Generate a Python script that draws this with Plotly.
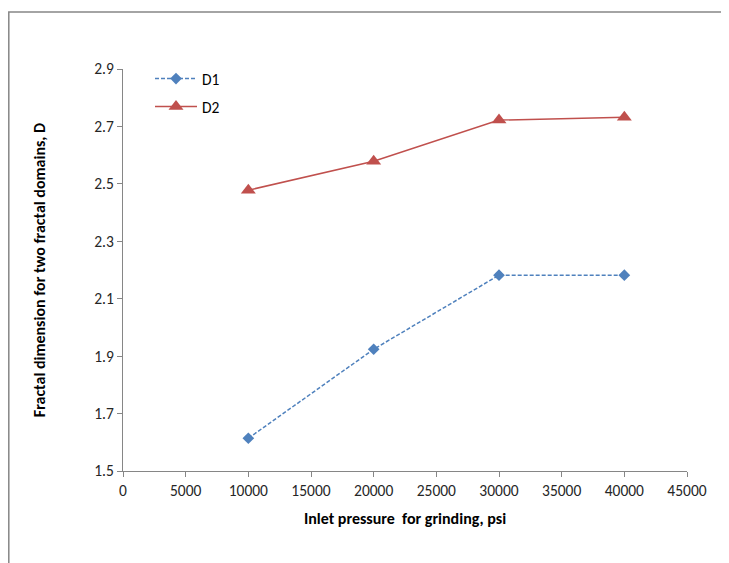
import plotly.graph_objects as go

pressure = [10000, 20000, 30000, 40000]
d1 = [1.614, 1.924, 2.182, 2.182]
d2 = [2.478, 2.579, 2.722, 2.732]

FONT = "Carlito, Lato, 'Liberation Sans', sans-serif"
AXIS_COLOR = "#868686"

fig = go.Figure()
fig.add_trace(go.Scatter(
    x=pressure, y=d1, name="D1", mode="lines+markers",
    line=dict(color="#4F81BD", width=1.5, dash="4px,2px"),
    marker=dict(symbol="diamond", size=9, color="#4F81BD"),
    legend="legend",
))
fig.add_trace(go.Scatter(
    x=pressure, y=d2, name="D2", mode="lines+markers",
    line=dict(color="#C0504D", width=1.5),
    marker=dict(symbol="triangle-up", size=13, color="#C0504D"),
    legend="legend2",
))

# page offset (browser body margin)
OFF = 8
W, H = 729, 563
# plot area in window pixel coordinates
PX0, PX1, PY0, PY1 = 123, 687, 69, 471
L, T = PX0 - OFF, PY0 - OFF
R, B = W - (PX1 - OFF), H - (PY1 - OFF)
pw, ph = PX1 - PX0, PY1 - PY0

def px_x(p):
    return (p - PX0) / pw

def px_y(p):
    return (PY1 - p) / ph

fig.update_layout(
    width=W, height=H,
    margin=dict(l=L, r=R, t=T, b=B),
    paper_bgcolor="white", plot_bgcolor="white",
    font=dict(family=FONT, size=15, color="#262626"),
    xaxis=dict(
        range=[0, 45000], tickmode="array",
        tickvals=list(range(0, 45001, 5000)),
        ticktext=[str(v) for v in range(0, 45001, 5000)],
        showgrid=False, zeroline=False, showline=True,
        linecolor=AXIS_COLOR, linewidth=1,
        ticks="outside", ticklen=5, tickcolor=AXIS_COLOR,
        tickfont=dict(size=15.5),
        title=dict(text="<b>Inlet pressure  for grinding, psi</b>", font=dict(size=16, color="#000000"), standoff=14),
    ),
    yaxis=dict(
        range=[1.5, 2.9], tickmode="array",
        tickvals=[1.5, 1.7, 1.9, 2.1, 2.3, 2.5, 2.7, 2.9],
        ticktext=["1.5", "1.7", "1.9", "2.1", "2.3", "2.5", "2.7", "2.9"],
        showgrid=False, zeroline=False, showline=True,
        linecolor=AXIS_COLOR, linewidth=1,
        ticks="outside", ticklen=5, tickcolor=AXIS_COLOR,
        tickfont=dict(size=15.5),
        title=dict(text="<b>Fractal dimension for two fractal domains, D</b>", font=dict(size=16, color="#000000"), standoff=44),
    ),
    legend=dict(x=px_x(150), y=px_y(79), yanchor="middle", xanchor="left", itemwidth=42,
                bgcolor="rgba(0,0,0,0)", font=dict(size=15.5, color="#000000")),
    legend2=dict(x=px_x(150), y=px_y(107), yanchor="middle", xanchor="left", itemwidth=42,
                 bgcolor="rgba(0,0,0,0)", font=dict(size=15.5, color="#000000")),
    showlegend=True,
    shapes=[dict(type="rect", xref="paper", yref="paper",
                 x0=px_x(8.8), y0=px_y(800), x1=px_x(1000), y1=px_y(12),
                 line=dict(color="#868686", width=1.5), fillcolor="rgba(0,0,0,0)",
                 layer="below")],
)

fig.write_html("out.html")
